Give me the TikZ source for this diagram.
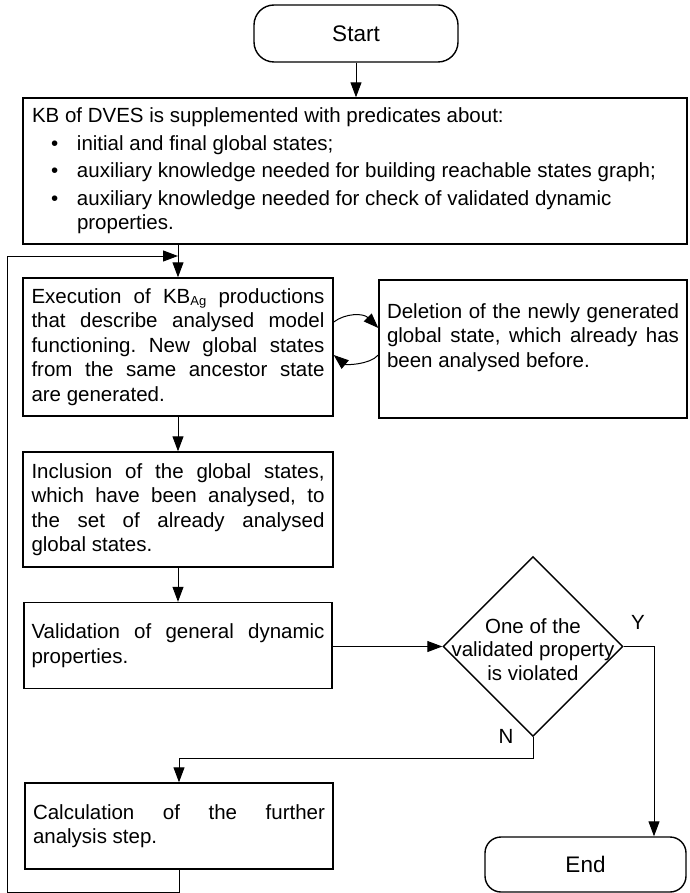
\documentclass[tikz,border=0pt]{standalone}
\usepackage{fontspec}
\setmainfont{Liberation Sans}
\usetikzlibrary{arrows.meta,shapes.geometric}
\hbadness=10000
\frenchspacing
\begin{document}
\begin{tikzpicture}[x=1pt,y=-1pt,
  font=\fontsize{20.5pt}{24.5pt}\selectfont,
  box/.style={draw, line width=1.4pt, inner sep=0pt},
  term/.style={draw, line width=1.4pt, rounded corners=20pt, inner sep=0pt, font=\fontsize{22.5pt}{26pt}\selectfont},
  arr/.style={line width=1pt, -{Triangle[length=15pt,width=11pt]}}]
\useasboundingbox (0,0) rectangle (689,893);

\node[term, minimum width=204pt, minimum height=57pt] (start) at (356,33.5) {Start};

\node[box, minimum width=664pt, minimum height=146pt] (kb) at (355,171)
 {\parbox{646pt}{\raggedright KB of DVES is supplemented with predicates about:\\[3pt]
  \hspace*{19pt}\makebox[26pt][l]{\textbullet}initial and final global states;\\[3pt]
  \hspace*{19pt}\makebox[26pt][l]{\textbullet}auxiliary knowledge needed for building reachable states graph;\\[3pt]
  \hspace*{19pt}\makebox[26pt][l]{\textbullet}auxiliary knowledge needed for check of validated dynamic\\
  \hspace*{45pt}properties.}};

\node[box, minimum width=310pt, minimum height=138pt] (exec) at (178,347)
 {\parbox{293pt}{Execution of KB\raisebox{-2.5pt}{\fontsize{13pt}{13pt}\selectfont Ag} productions\linebreak
  that describe analysed model\linebreak
  functioning. New global states\linebreak
  from the same ancestor state\linebreak
  are generated.}};

\node[box, minimum width=308pt, minimum height=138pt] (del) at (533,349)
 {\parbox[c][91pt][t]{292pt}{Deletion of the newly generated\linebreak
  global state, which already has\linebreak
  been analysed before.}};

\node[box, minimum width=310pt, minimum height=115pt] (incl) at (178,509.5)
 {\parbox{293pt}{Inclusion of the global states,\linebreak
  which have been analysed, to\linebreak
  the set of already analysed\linebreak
  global states.}};

\node[box, minimum width=308pt, minimum height=86pt] (valid) at (178,645.5)
 {\parbox{293pt}{Validation of general dynamic\linebreak
  properties.}};

\node[draw, line width=1.4pt, diamond, inner sep=0pt, minimum width=180pt, minimum height=180pt] (dia) at (533,646.5) {};
\node[align=center, inner sep=0pt, font=\fontsize{20.5pt}{23.5pt}\selectfont] (diatext) at (533,649.5)
 {One of the\\validated property\\is violated};

\node[box, minimum width=308pt, minimum height=86pt] (calc) at (179,826)
 {\parbox{292pt}{Calculation of the further\linebreak
  analysis step.}};

\node[term, rounded corners=16pt, minimum width=201pt, minimum height=55pt] (end) at (585.5,864.5) {End};

\node[inner sep=0pt] (ylab) at (638,622) {Y};
\node[inner sep=0pt] (nlab) at (506,736) {N};

\coordinate (lt) at (7,256);
\coordinate (lb) at (7,892);
\coordinate (yc) at (654,646.5);
\coordinate (nc) at (533,758);

\draw[arr] (start.south) -- (start.south |- kb.north);
\draw[arr] (kb.south -| exec.north) -- (exec.north);
\draw[arr] (calc.south) |- (lb) -- (lt) -- (lt -| exec.north);
\draw[arr] ([yshift=25pt]exec.east) .. controls +(12,-9) and +(-15,-15) .. ([yshift=21pt]del.west);
\draw[arr] ([yshift=-6pt]del.west) .. controls +(-9,10) and +(12,10) .. ([yshift=-8pt]exec.east);
\draw[arr] (exec.south) -- (incl.north);
\draw[arr] (incl.south) -- (valid.north);
\draw[arr] (valid.east |- dia.west) -- (dia.west);
\draw[arr] (dia.east) -- (yc) -- (yc |- end.north);
\draw[arr] (dia.south) -- (nc) -| (calc.north);
\end{tikzpicture}
\end{document}
